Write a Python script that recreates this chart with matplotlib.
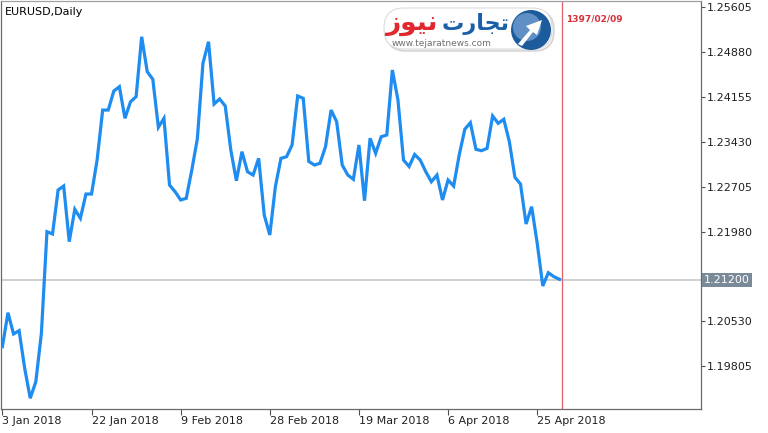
#!/usr/bin/env python3
# EURUSD daily line chart, MT4 style, with the tejaratnews logo on top

import numpy as np
import matplotlib
matplotlib.use('Agg')
import matplotlib.pyplot as plt
from matplotlib.patches import FancyBboxPatch, Circle, Polygon

###############################################################################

# daily closes, bar 0 = 3 Jan 2018
close = [1.20124, 1.20672, 1.20329, 1.20382, 1.19776, 1.19293, 1.19560, 1.20340,
         1.21977, 1.21940, 1.22649, 1.22713, 1.21816, 1.22338, 1.22193, 1.22584,
         1.22584, 1.23132, 1.23937, 1.23937, 1.24244, 1.24313, 1.23804, 1.24071,
         1.24152, 1.25118, 1.24555, 1.24432, 1.23659, 1.23804, 1.22729, 1.22621,
         1.22488, 1.22515, 1.22971, 1.23478, 1.24690, 1.25038, 1.24034, 1.24115,
         1.24002, 1.23293, 1.22798, 1.23266, 1.22943, 1.22890, 1.23159, 1.22246,
         1.21924, 1.22702, 1.23159, 1.23185, 1.23374, 1.24163, 1.24126, 1.23108,
         1.23051, 1.23079, 1.23346, 1.23937, 1.23749, 1.23051, 1.22890, 1.22821,
         1.23374, 1.22476, 1.23482, 1.23240, 1.23507, 1.23535, 1.24582, 1.24099,
         1.23132, 1.23027, 1.23221, 1.23132, 1.22943, 1.22782, 1.22890, 1.22488,
         1.22810, 1.22713, 1.23213, 1.23627, 1.23733, 1.23304, 1.23282, 1.23320,
         1.23841, 1.23723, 1.23788, 1.23427, 1.22853, 1.22745, 1.22101, 1.22380,
         1.21790, 1.21102, 1.21316, 1.21252, 1.21210]

tick_bars = [0, 16, 32, 48, 64, 80, 96]
tick_labels = ['3 Jan 2018', '22 Jan 2018', '9 Feb 2018', '28 Feb 2018',
               '19 Mar 2018', '6 Apr 2018', '25 Apr 2018']

price_levels = [1.25605, 1.24880, 1.24155, 1.23430, 1.22705, 1.21980,
                1.20530, 1.19805]
last_price = 1.21200

marker_bar = 100.5
marker_label = '1397/02/09'

title = 'EURUSD,Daily'
logo_fa_red = 'ﺯﻮﻴﻧ'      # نیوز, shaped glyphs in visual order
logo_fa_blue = 'ﺕﺭﺎﺠﺗ'    # تجارت
logo_url = 'www.tejaratnews.com'

###############################################################################

plt.rcParams['font.family'] = ['DejaVu Sans']

W, H = 768, 433
fig = plt.figure(figsize=(W/100., H/100.), dpi=100)
ax = fig.add_axes([1./W, 1-409./H, 700./W, 408./H])

bars = np.arange(len(close))
ax.plot(bars, close, color='#1e8cf0', lw=2.3, solid_joinstyle='miter', zorder=3)

ax.axhline(last_price, color='#c8c8c8', lw=1.2, zorder=1)
ax.axvline(marker_bar, color='#e0606a', lw=0.9, zorder=2)

ax.set_xlim(-0.25, 125.4)
ax.set_ylim(1.19120, 1.25694)

ax.yaxis.tick_right()
ax.set_yticks(price_levels)
ax.set_yticklabels(['%.5f' % p for p in price_levels], fontsize=8, color='#202020')
ax.set_xticks(tick_bars)
ax.set_xticklabels(tick_labels, fontsize=8, color='#202020', ha='left')
ax.tick_params(axis='y', length=3, width=0.8, color='#505050', pad=1)
ax.tick_params(axis='x', length=4, width=0.8, color='#505050', pad=1)

for s in ax.spines.values():
    s.set_color('#6a6a6a')
    s.set_linewidth(0.9)
ax.spines['top'].set_color('#a0a0a0')

# current price box on the price scale
ax.text(1.004, last_price, '%.5f' % last_price, transform=ax.get_yaxis_transform(),
        fontsize=8, color='white', va='center', ha='left',
        bbox=dict(boxstyle='square,pad=0.18', fc='#7a8a99', ec='none'))

ax.text(0.005, 0.985, title, transform=ax.transAxes, fontsize=8,
        va='top', ha='left', color='black')

ax.text(marker_bar + 0.7, 1.2540, marker_label, fontsize=6.5, color='#d8303c',
        fontweight='bold', va='center', ha='left')

###############################################################################

# logo drawn in pixel coordinates on an overlay
lg = fig.add_axes([0, 0, 1, 1])
lg.set_xlim(0, W)
lg.set_ylim(H, 0)
lg.axis('off')

lg.add_patch(FancyBboxPatch((386, 10), 168, 41, boxstyle='round,pad=0,rounding_size=20',
                            fc='#f2f2f2', ec='#d0d0d0', lw=1.0))
lg.add_patch(FancyBboxPatch((384, 8), 168, 41, boxstyle='round,pad=0,rounding_size=20',
                            fc='white', ec='#dcdcdc', lw=0.8))
lg.text(437, 24, logo_fa_red, fontsize=19, fontweight='bold', color='#e0262e',
        ha='right', va='center')
lg.text(442, 24, logo_fa_blue, fontsize=16, fontweight='bold', color='#1b5fa8',
        ha='left', va='center')
lg.text(392, 43, logo_url, fontsize=6.5, color='#707070', ha='left', va='center')

lg.add_patch(Circle((531, 30), 20, fc='#1d5c9c', ec='none'))
lg.add_patch(Circle((527, 27), 14, fc='#5f8fc4', ec='none'))
lg.add_patch(Polygon([[518, 44], [530, 30], [526, 26], [542, 20], [537, 35], [533, 32], [522, 46]],
                     closed=True, fc='white', ec='none'))

fig.savefig('out.png', dpi=100)
